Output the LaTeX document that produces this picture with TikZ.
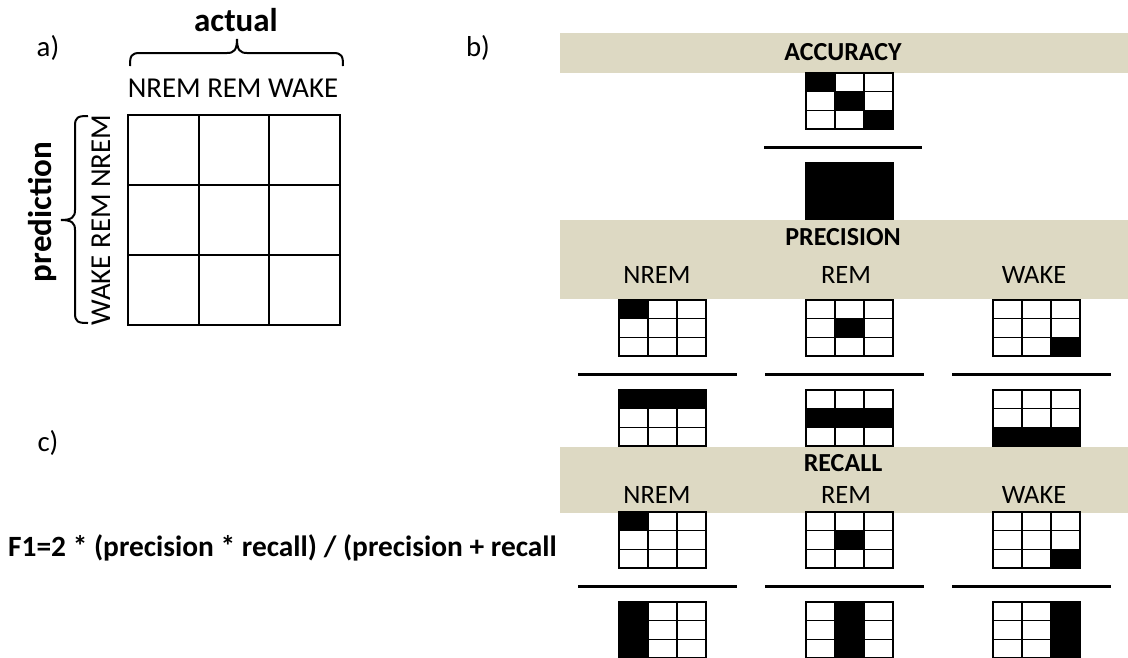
\documentclass[tikz,border=0pt]{standalone}
\usepackage{fontspec}
\setmainfont{Carlito}
\definecolor{band}{HTML}{DDD9C3}
% 3x3 confusion matrix: #1 = left x, #2 = top y, #3 = filled cells as col/row
\newcommand\confmat[3]{%
  \foreach \c/\r in {#3}{\fill ({#1+\c*29},{#2+\r*18.67}) rectangle ++(29,18.67);}
  \foreach \i in {0,...,3}{%
    \draw[cell] ({#1+\i*29},#2) -- ++(0,56);
    \draw[cell] (#1,{#2+\i*18.67}) -- ++(87,0);}%
}
\begin{document}
\begin{tikzpicture}[x=1pt,y=-1pt,
  lbl/.style={inner sep=0pt,font=\fontsize{28.8}{30}\selectfont},
  sub/.style={inner sep=0pt,font=\fontsize{26.5}{28}\selectfont},
  head/.style={inner sep=0pt,font=\fontsize{26}{28}\selectfont\bfseries},
  bigbold/.style={inner sep=0pt,font=\fontsize{33}{35}\selectfont\bfseries},
  bandbox/.style={fill=band,draw=none},
  cell/.style={line width=1.3pt,line cap=rect},
  frac/.style={line width=3pt},
  bigcell/.style={line width=2.2pt,line cap=rect},
  curly/.style={line width=2pt}]
\useasboundingbox (0,0) rectangle (1128,657);
\clip (0,0) rectangle (1128,657);

% ---- a) layout of the confusion matrix
\node[lbl] (la) at (48,48) {a)};
\node[bigbold] (actual) at (236,20) {actual};
% horizontal curly brace over the columns
\draw[curly] (130,66) .. controls (130,56) and (131,53) .. (140,53) -- (227,53)
  .. controls (234,53) and (237,50) .. (237,39)
  .. controls (237,50) and (240,53) .. (247,53) -- (333,53)
  .. controls (342,53) and (343,56) .. (343,66);
\node[lbl] (cols) at (233,88) {NREM REM WAKE};
\foreach \i in {0,...,3}{%
  \draw[bigcell] ({128+\i*70.67},115) -- ++(0,210);
  \draw[bigcell] (128,{115+\i*70}) -- ++(212,0);}
\node[lbl,rotate=90] (rows) at (101,220) {WAKE REM NREM};
% vertical curly brace beside the rows
\draw[curly] (88,116) .. controls (78,116) and (75,117) .. (75,126) -- (75,210)
  .. controls (75,217) and (72,220) .. (61,220)
  .. controls (72,220) and (75,223) .. (75,230) -- (75,313)
  .. controls (75,322) and (78,323) .. (88,323);
\node[bigbold,rotate=90] (pred) at (42,212) {prediction};

% ---- b) metrics
\node[lbl] (lb) at (478,48) {b)};

% accuracy
\fill[bandbox] (560,33) rectangle (1128,73);
\node[head] (acc) at (843,52) {ACCURACY};
\confmat{806}{73}{0/0,1/1,2/2}
\coordinate (a1) at (764,147);
\coordinate (a2) at (922,147);
\draw[frac] (a1) -- (a2);
\confmat{806}{163}{0/0,1/0,2/0,0/1,1/1,2/1,0/2,1/2,2/2}

% precision
\fill[bandbox] (560,220) rectangle (1128,299);
\node[head] (prec) at (843,237) {PRECISION};
\node[sub] (pn) at (657,275) {NREM};
\node[sub] (pr) at (846,275) {REM};
\node[sub] (pw) at (1034,275) {WAKE};
\confmat{619}{300}{0/0}
\confmat{806}{300}{1/1}
\confmat{993}{300}{2/2}
\foreach \x/\n in {578/1,765/2,952/3}{%
  \coordinate (p\n a) at (\x,374);
  \coordinate (p\n b) at (\x+159,374);
  \draw[frac] (p\n a) -- (p\n b);}
\confmat{619}{390}{0/0,1/0,2/0}
\confmat{806}{390}{0/1,1/1,2/1}
\confmat{993}{390}{0/2,1/2,2/2}

% recall
\fill[bandbox] (560,447) rectangle (1128,513);
\node[head] (rec) at (843,463) {RECALL};
\node[sub] (rn) at (657,495) {NREM};
\node[sub] (rr) at (846,495) {REM};
\node[sub] (rw) at (1034,495) {WAKE};
\confmat{619}{512}{0/0}
\confmat{806}{512}{1/1}
\confmat{993}{512}{2/2}
\foreach \x/\n in {578/1,765/2,952/3}{%
  \coordinate (r\n a) at (\x,586);
  \coordinate (r\n b) at (\x+159,586);
  \draw[frac] (r\n a) -- (r\n b);}
\confmat{619}{602}{0/0,0/1,0/2}
\confmat{806}{602}{1/0,1/1,1/2}
\confmat{993}{602}{2/0,2/1,2/2}

% ---- c) F1 score
\node[lbl] (lc) at (48,443) {c)};
\node[inner sep=0pt,anchor=west,font=\fontsize{29.4}{31}\selectfont\bfseries] (f1) at (8,548)
  {F1=2 * (precision * recall) / (precision + recall};
\end{tikzpicture}
\end{document}
